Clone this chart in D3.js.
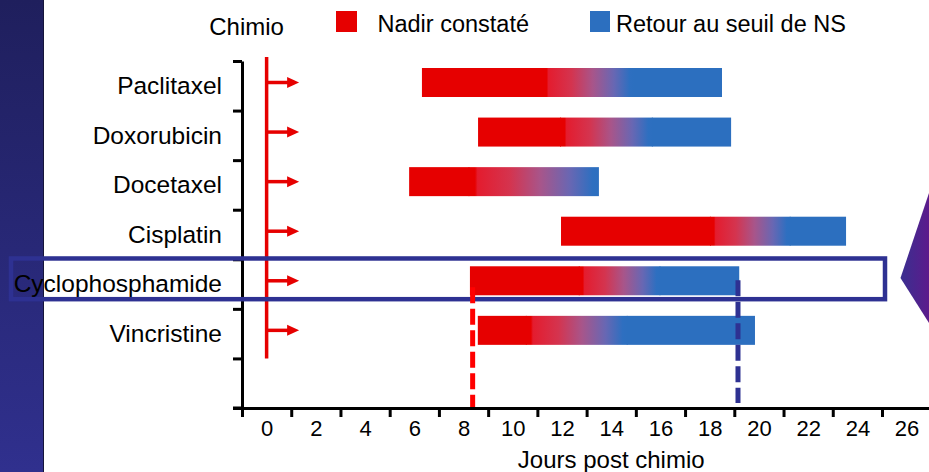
<!DOCTYPE html>
<html>
<head>
<meta charset="utf-8">
<script src="https://cdn.jsdelivr.net/npm/d3@7"></script>
<style>
  html, body { margin: 0; padding: 0; background: #ffffff; }
  svg { display: block; }
  text { font-family: "Liberation Sans", Arial, Helvetica, sans-serif; fill: #000; }
</style>
</head>
<body>
<svg id="chart" width="929" height="472"></svg>
<script>
// ---------- data ----------
const categories = ["Paclitaxel", "Doxorubicin", "Docetaxel", "Cisplatin", "Cyclophosphamide", "Vincristine"];
const nadirStart = [6.31, 8.59, 5.79, 11.96, 8.26, 8.58];        // start of red (nadir) segment, days
const transitionStart = [11.19, 11.92, 8.20, 18.01, 12.68, 10.53]; // start of red->blue transition
const transitionEnd = [14.93, 15.69, 13.50, 21.29, 16.00, 14.67];  // end of transition
const recoveryEnd = [18.50, 18.87, 13.50, 23.54, 19.20, 19.84];    // end of blue (recovery) segment
const xTickMarks = [-1, 1, 3, 5, 7, 9, 11, 13, 15, 17, 19, 21, 23, 25];
const xTickLabels = [0, 2, 4, 6, 8, 10, 12, 14, 16, 18, 20, 22, 24, 26];
const highlighted = "Cyclophosphamide";
const nadirMarker = 8.37;
const recoveryMarker = 19.15;
const chemoDay = 0;
const legendLabels = ["Nadir constaté", "Retour au seuil de NS"];
const xTitle = "Jours post chimio";
const chemoLabel = "Chimio";

// ---------- setup ----------
const RED = "#e60000", BLUE = "#2c6fbf", NAVY = "#2e3192";
const svg = d3.select("#chart");
const defs = svg.append("defs");

const x = d3.scaleLinear().domain([-1, 27.7]).range([242, 242 + 28.7 * 24.615]);
const y = d3.scaleBand().domain(categories).range([61, 61 + 6 * 49.57]);
const yTicks = d3.scaleLinear().domain([0, 7]).range([61, 408]);
const axisY = 408;

// gradients
const stripGrad = defs.append("linearGradient").attr("id", "strip").attr("x1", 0).attr("y1", 0).attr("x2", 0).attr("y2", 1);
stripGrad.append("stop").attr("offset", 0).attr("stop-color", "#1f1f5d");
stripGrad.append("stop").attr("offset", 1).attr("stop-color", "#30308e");

const trans = defs.append("linearGradient").attr("id", "trans").attr("x1", 0).attr("y1", 0).attr("x2", 1).attr("y2", 0);
[[0, "#e60000"], [0.05, "#e60000"], [0.07, "#e41c2e"], [0.32, "#d4344f"], [0.55, "#a8558a"],
 [0.78, "#6867b3"], [0.95, "#2e6fc0"], [1, BLUE]].forEach(([o, c]) =>
  trans.append("stop").attr("offset", o).attr("stop-color", c));

const triGrad = defs.append("linearGradient").attr("id", "tri").attr("x1", 0).attr("y1", 0).attr("x2", 1).attr("y2", 0);
triGrad.append("stop").attr("offset", 0).attr("stop-color", "#3a2f90");
triGrad.append("stop").attr("offset", 1).attr("stop-color", "#5c1b8c");

// left dark strip
svg.append("rect").attr("x", 0).attr("y", 0).attr("width", 44).attr("height", 472).attr("fill", "url(#strip)");
svg.append("line").attr("x1", 43.5).attr("x2", 43.5).attr("y1", 0).attr("y2", 472).attr("stroke", "#15153a").attr("stroke-width", 1);

// ---------- axes ----------
const gy = svg.append("g").attr("transform", "translate(242,0)")
  .call(d3.axisLeft(yTicks).tickValues(d3.range(8)).tickSize(9).tickSizeOuter(0).tickFormat(""));
gy.selectAll("path,line").attr("stroke", "#000").attr("stroke-width", 3);

const gyl = svg.append("g").attr("transform", "translate(242,0)")
  .call(d3.axisLeft(y).tickSize(0).tickPadding(20));
gyl.select(".domain").remove();
gyl.selectAll("text").attr("font-size", 24.5).attr("font-family", null).attr("dy", "0.34em");

const gx = svg.append("g").attr("transform", `translate(0,${axisY})`)
  .call(d3.axisBottom(x).tickValues(xTickMarks).tickSize(9).tickSizeOuter(0).tickFormat(""));
gx.selectAll("path,line").attr("stroke", "#000").attr("stroke-width", 3);
svg.append("line").attr("x1", 233).attr("x2", 242).attr("y1", axisY).attr("y2", axisY).attr("stroke", "#000").attr("stroke-width", 3);

const gxl = svg.append("g").attr("transform", `translate(0,${axisY})`)
  .call(d3.axisBottom(x).tickValues(xTickLabels).tickSize(0).tickPadding(12));
gxl.select(".domain").remove();
gxl.selectAll("text").attr("font-size", 22).attr("font-family", null);

svg.append("text").attr("x", x(14)).attr("y", 468).attr("text-anchor", "middle")
  .attr("font-size", 24).text(xTitle);

// ---------- chemo line & arrows ----------
svg.append("line").attr("x1", x(chemoDay)).attr("x2", x(chemoDay))
  .attr("y1", 57).attr("y2", y.range()[1]).attr("stroke", RED).attr("stroke-width", 3.5);
svg.append("text").attr("x", x(chemoDay) - 20).attr("y", 35).attr("text-anchor", "middle")
  .attr("font-size", 24).text(chemoLabel);

const arrows = svg.append("g");
categories.forEach(c => {
  const cy = y(c) + 7 + 14.5;
  const x0 = x(chemoDay) + 1, x1 = x(chemoDay) + 32.5;
  arrows.append("line").attr("x1", x0).attr("x2", x1 - 10).attr("y1", cy).attr("y2", cy)
    .attr("stroke", RED).attr("stroke-width", 3.5);
  arrows.append("path").attr("d", `M${x1 - 12},${cy - 5.5}L${x1},${cy}L${x1 - 12},${cy + 5.5}Z`).attr("fill", RED);
});

// ---------- bars ----------
const barH = 29;
const bars = svg.append("g");
categories.forEach((c, i) => {
  const top = y(c) + 7;
  bars.append("rect").attr("x", x(nadirStart[i])).attr("y", top)
    .attr("width", x(transitionStart[i]) - x(nadirStart[i]) + 1).attr("height", barH).attr("fill", RED);
  if (recoveryEnd[i] > transitionEnd[i]) {
    bars.append("rect").attr("x", x(transitionEnd[i]) - 1).attr("y", top)
      .attr("width", x(recoveryEnd[i]) - x(transitionEnd[i]) + 1).attr("height", barH).attr("fill", BLUE);
  }
  bars.append("rect").attr("x", x(transitionStart[i])).attr("y", top)
    .attr("width", x(transitionEnd[i]) - x(transitionStart[i])).attr("height", barH).attr("fill", "url(#trans)");
});

// ---------- highlight frame ----------
svg.append("rect").attr("x", 11).attr("y", y(highlighted) - 0.8)
  .attr("width", 874).attr("height", 40.7)
  .attr("fill", "none").attr("stroke", NAVY).attr("stroke-width", 4.5);

// ---------- dashed markers ----------
svg.append("line").attr("x1", x(nadirMarker)).attr("x2", x(nadirMarker))
  .attr("y1", y(highlighted) + 28).attr("y2", axisY - 1)
  .attr("stroke", "#ff0000").attr("stroke-width", 5).attr("stroke-dasharray", "16,5.5");
svg.append("line").attr("x1", x(recoveryMarker)).attr("x2", x(recoveryMarker))
  .attr("y1", y(highlighted) + 21).attr("y2", axisY - 5)
  .attr("stroke", NAVY).attr("stroke-width", 5).attr("stroke-dasharray", "16,5.5");

// ---------- right pointer ----------
svg.append("path").attr("d", "M929,193L900.5,278L929,323Z").attr("fill", "url(#tri)");

// ---------- legend ----------
const leg = svg.append("g");
leg.append("rect").attr("x", 336).attr("y", 11).attr("width", 21).attr("height", 21).attr("fill", RED);
leg.append("text").attr("x", 377.5).attr("y", 31.5).attr("font-size", 23.5).text(legendLabels[0]);
leg.append("rect").attr("x", 590).attr("y", 11).attr("width", 20).attr("height", 21).attr("fill", BLUE);
leg.append("text").attr("x", 616).attr("y", 31.5).attr("font-size", 23.5).text(legendLabels[1]);
</script>
</body>
</html>
